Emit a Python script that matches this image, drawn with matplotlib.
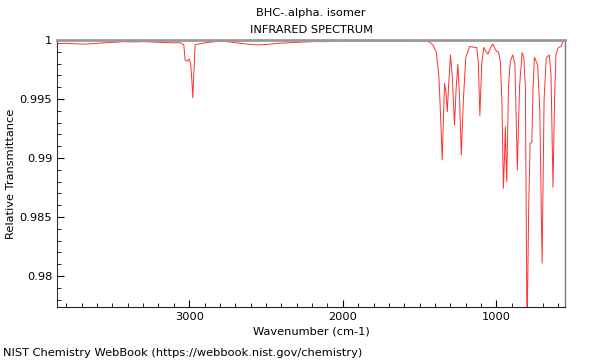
import matplotlib
matplotlib.use("Agg")
import matplotlib.pyplot as plt
from matplotlib.ticker import MultipleLocator, FuncFormatter

title_lines = ["BHC-.alpha. isomer", "INFRARED SPECTRUM"]
x_label = "Wavenumber (cm-1)"
y_label = "Relative Transmittance"
footer = "NIST Chemistry WebBook (https://webbook.nist.gov/chemistry)"

wavenumber = [3857, 3800, 3740, 3682, 3620, 3560, 3500, 3422, 3360, 3292, 3220,
              3150, 3100, 3058, 3035, 3026, 3012, 3000, 2990, 2982, 2976, 2970,
              2961, 2900, 2840, 2773, 2700, 2620, 2558, 2500, 2420, 2344, 2250,
              2180, 2123, 2050, 1980, 1909, 1800, 1700, 1600, 1520, 1474, 1450,
              1435, 1415, 1392, 1375, 1362, 1353, 1346, 1338, 1328, 1320, 1310,
              1299, 1288, 1273, 1262, 1251, 1240, 1229, 1215, 1200, 1175, 1150,
              1128, 1118, 1108, 1096, 1082, 1068, 1056, 1040, 1024, 1008, 995,
              987, 975, 965, 955, 948, 942, 938, 933, 922, 910, 894, 880, 864,
              850, 833, 822, 812, 801, 790, 781, 770, 762, 753, 742, 732, 718,
              703, 690, 676, 656, 645, 632, 622, 613, 600, 591, 580, 565, 554]
transmittance = [0.99970, 0.99972, 0.99968, 0.99965, 0.99970, 0.99975, 0.99980,
                 0.99986, 0.99984, 0.99986, 0.99982, 0.99978, 0.99976, 0.99977,
                 0.99960, 0.99830, 0.99820, 0.99840, 0.99800, 0.99650, 0.99510,
                 0.99700, 0.99960, 0.99975, 0.99985, 0.99989, 0.99978, 0.99965,
                 0.99958, 0.99962, 0.99972, 0.99977, 0.99983, 0.99987, 0.99986,
                 0.99990, 0.99993, 0.99994, 0.99994, 0.99993, 0.99994, 0.99990,
                 0.99992, 0.99988, 0.99982, 0.99960, 0.99900, 0.99700, 0.99300,
                 0.98983, 0.99300, 0.99633, 0.99550, 0.99393, 0.99650, 0.99873,
                 0.99700, 0.99280, 0.99600, 0.99794, 0.99500, 0.99025, 0.99500,
                 0.99850, 0.99944, 0.99940, 0.99935, 0.99800, 0.99359, 0.99800,
                 0.99938, 0.99900, 0.99881, 0.99930, 0.99966, 0.99920, 0.99900,
                 0.99900, 0.99820, 0.99500, 0.98743, 0.99000, 0.99265, 0.99000,
                 0.98800, 0.99600, 0.99820, 0.99873, 0.99800, 0.98898, 0.99600,
                 0.99893, 0.99850, 0.99600, 0.97500, 0.98600, 0.99125, 0.99130,
                 0.99600, 0.99853, 0.99820, 0.99788, 0.99400, 0.98108, 0.99500,
                 0.99850, 0.99873, 0.99700, 0.98752, 0.99500, 0.99870, 0.99930,
                 0.99940, 0.99945, 0.99990, 1.00000]

x_major = [3000, 2000, 1000]
y_major = [1.0, 0.995, 0.99, 0.985, 0.98]

fs = 8.2
fig = plt.figure(figsize=(6, 3.6), dpi=100)
ax = fig.add_axes([57/600, 1-307/360, (565-57)/600, (307-40)/360])
ax.plot(wavenumber, transmittance, color="#ff3030", linewidth=0.7)
ax.set_xlim(3860, 554)
ax.set_ylim(0.97737, 1.0)

ax.set_xticks(x_major)
ax.set_yticks(y_major)
ax.xaxis.set_minor_locator(MultipleLocator(100))
ax.yaxis.set_minor_locator(MultipleLocator(0.001))
ax.yaxis.set_major_formatter(FuncFormatter(lambda v, p: "%g" % round(v, 4)))
ax.tick_params(which="both", direction="in", labelsize=fs, colors="black")
ax.tick_params(which="major", length=5)
ax.tick_params(which="minor", length=3)

ax.spines["top"].set_color("#999999")
ax.spines["top"].set_linewidth(2)
ax.spines["right"].set_color("#777777")
ax.spines["right"].set_linewidth(1)
ax.spines["left"].set_color("#333333")
ax.spines["bottom"].set_color("#222222")

ax.set_xlabel(x_label, fontsize=fs)
ax.set_ylabel(y_label, fontsize=fs)
ax.xaxis.set_label_coords(0.5, (307-326)/267)
ax.yaxis.set_label_coords((16-57)/508, 0.5)
fig.text(311/600, 1-13/360, title_lines[0], ha="center", va="center", fontsize=fs)
fig.text(311/600, 1-30/360, title_lines[1], ha="center", va="center", fontsize=fs)
fig.text(3/600, 1-353/360, footer, ha="left", va="center", fontsize=fs)

fig.savefig("out.png", dpi=100)
